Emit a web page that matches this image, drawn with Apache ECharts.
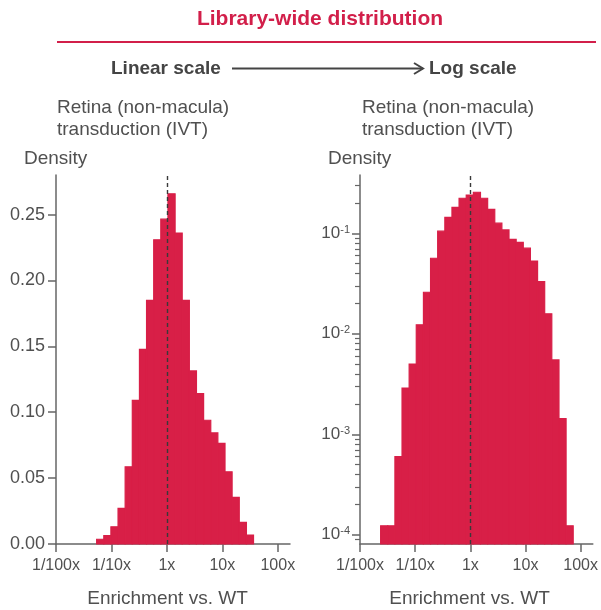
<!DOCTYPE html>
<html>
<head>
<meta charset="utf-8">
<script src="https://cdn.jsdelivr.net/npm/echarts@6/dist/echarts.min.js"></script>
<style>html,body{margin:0;padding:0;background:#fff;}#c{width:601px;height:610px;}</style>
</head>
<body>
<div id="c"></div>
<script>
// ---- data ----
const xTickValues = [-2, -1, 0, 1, 2];            // log10(enrichment)
const xTickLabels = ['1/100x', '1/10x', '1x', '10x', '100x'];
const linearYTicks = [0, 0.05, 0.10, 0.15, 0.20, 0.25];
const logYTicks = [1e-4, 1e-3, 1e-2, 1e-1];
const logYMinorTicks = [9e-5,
  2e-4, 3e-4, 4e-4, 5e-4, 6e-4, 7e-4, 8e-4, 9e-4,
  2e-3, 3e-3, 4e-3, 5e-3, 6e-3, 7e-3, 8e-3, 9e-3,
  2e-2, 3e-2, 4e-2, 5e-2, 6e-2, 7e-2, 8e-2, 9e-2,
  2e-1, 3e-1];

// histogram bin edges (log10 enrichment vs. WT)
const linearBinEdges = [-1.267, -1.138, -1.010, -0.881, -0.753, -0.624, -0.495, -0.367,
  -0.238, -0.110, 0.019, 0.148, 0.276, 0.405, 0.533, 0.662, 0.791, 0.919, 1.048,
  1.176, 1.305, 1.434, 1.562];
const linearDensity = [0.0036, 0.0063, 0.0131, 0.027, 0.0586, 0.109, 0.1477, 0.1848,
  0.2308, 0.2465, 0.2657, 0.2359, 0.1848, 0.1313, 0.1141, 0.0939, 0.0843, 0.0763,
  0.0548, 0.0354, 0.0164, 0.0068];

const logBinEdges = [-1.626, -1.497, -1.367, -1.238, -1.109, -0.980, -0.850, -0.721,
  -0.592, -0.462, -0.333, -0.204, -0.074, 0.055, 0.184, 0.314, 0.443, 0.572, 0.701,
  0.831, 0.960, 1.089, 1.219, 1.348, 1.477, 1.607, 1.736, 1.865];
const logDensity = [1.23e-4, 1.23e-4, 6.0e-4, 2.88e-3, 5.0e-3, 1.23e-2, 2.59e-2, 5.64e-2,
  0.105, 0.144, 0.181, 0.223, 0.240, 0.256, 0.223, 0.173, 0.126, 0.108, 0.087, 0.081,
  0.071, 0.053, 0.033, 0.0158, 0.0055, 0.00143, 1.23e-4];

// ---- styling ----
const FONT = '"Liberation Sans", Arial, Helvetica, sans-serif';
const BAR = '#d81f47';
const RED = '#d21f4a';
const AX = '#666666';
const TXT = '#505050';
const X_MIN = -2, X_MAX = 2.22;
const LIN_MAX = 0.28;
const LOG_MIN = 8.1e-5, LOG_MAX = 0.38;

function toBins(edges, vals) {
  return vals.map((v, i) => [edges[i], edges[i + 1], v]);
}

function renderer(yBase) {
  return function (params, api) {
    const x0 = api.value(0), x1 = api.value(1), y = api.value(2);
    const p0 = api.coord([x0, y]);
    const p1 = api.coord([x1, yBase]);
    return {
      type: 'rect',
      shape: { x: p0[0], y: p0[1], width: p1[0] - p0[0], height: p1[1] - p0[1] },
      style: { fill: BAR, stroke: BAR, lineWidth: 1.2 }
    };
  };
}

function xAxis(gi) {
  return {
    type: 'value', gridIndex: gi, min: X_MIN, max: X_MAX,
    axisLine: { show: true, onZero: false, lineStyle: { color: AX, width: 1.5 } },
    axisTick: { show: true, customValues: xTickValues, length: 8, lineStyle: { color: AX, width: 1.5 } },
    axisLabel: {
      customValues: xTickValues, margin: 14, color: TXT, fontSize: 16, fontFamily: FONT,
      formatter: v => xTickLabels[xTickValues.indexOf(Math.round(v))]
    },
    splitLine: { show: false }
  };
}

const dashed = {
  symbol: 'none', silent: true, label: { show: false },
  lineStyle: { color: '#3a3a3a', type: [4, 3], width: 1.4 },
  data: [{ xAxis: 0 }], animation: false
};

const option = {
  animation: false,
  backgroundColor: '#fff',
  grid: [
    { left: 56, top: 175, width: 234, height: 369 },
    { left: 360, top: 175, width: 233, height: 369 }
  ],
  xAxis: [xAxis(0), xAxis(1)],
  yAxis: [
    {
      type: 'value', gridIndex: 0, min: 0, max: LIN_MAX, position: 'left',
      axisLine: { show: true, onZero: false, lineStyle: { color: AX, width: 1.5 } },
      axisTick: { show: true, customValues: linearYTicks, length: 8, lineStyle: { color: AX, width: 1.5 } },
      axisLabel: { customValues: linearYTicks, margin: 11, color: TXT, fontSize: 18, fontFamily: FONT,
        formatter: v => v.toFixed(2) },
      splitLine: { show: false }
    },
    {
      type: 'log', logBase: 10, gridIndex: 1, min: LOG_MIN, max: LOG_MAX, position: 'left',
      axisLine: { show: true, onZero: false, lineStyle: { color: AX, width: 1.5 } },
      axisTick: { show: true, customValues: logYTicks, length: 8, lineStyle: { color: AX, width: 1.5 } },
      axisLabel: {
        customValues: logYTicks, margin: 10, color: TXT, fontFamily: FONT,
        formatter: v => '{b|10}{s|' + Math.round(Math.log10(v)) + '}',
        rich: {
          b: { fontSize: 17, color: TXT, fontFamily: FONT, lineHeight: 18 },
          s: { fontSize: 11, color: TXT, fontFamily: FONT, verticalAlign: 'top', lineHeight: 12 }
        }
      },
      splitLine: { show: false }
    },
    {
      type: 'log', logBase: 10, gridIndex: 1, min: LOG_MIN, max: LOG_MAX, position: 'left', offset: 0,
      axisLine: { show: false, onZero: false },
      axisTick: { show: true, customValues: logYMinorTicks, length: 5, lineStyle: { color: AX, width: 1.2 } },
      axisLabel: { show: false },
      splitLine: { show: false }
    }
  ],
  series: [
    {
      type: 'custom', xAxisIndex: 0, yAxisIndex: 0, z: 2,
      renderItem: renderer(0),
      encode: { x: [0, 1], y: 2 },
      data: toBins(linearBinEdges, linearDensity),
      markLine: dashed
    },
    {
      type: 'custom', xAxisIndex: 1, yAxisIndex: 1, z: 2,
      renderItem: renderer(LOG_MIN),
      encode: { x: [0, 1], y: 2 },
      data: toBins(logBinEdges, logDensity),
      markLine: dashed
    }
  ],
  graphic: [
    { type: 'text', x: 320, y: 19, style: { text: 'Library-wide distribution', font: 'bold 21px ' + FONT, fill: RED, align: 'center', verticalAlign: 'middle' } },
    { type: 'line', shape: { x1: 57, y1: 42, x2: 596, y2: 42 }, style: { stroke: RED, lineWidth: 2 } },
    { type: 'text', x: 111, y: 69, style: { text: 'Linear scale', font: 'bold 19px ' + FONT, fill: '#444', align: 'left', verticalAlign: 'middle' } },
    { type: 'line', shape: { x1: 232, y1: 68.5, x2: 423, y2: 68.5 }, style: { stroke: '#444', lineWidth: 2 } },
    { type: 'polyline', shape: { points: [[414, 63], [423, 68.5], [414, 74]] }, style: { stroke: '#444', lineWidth: 2, fill: null } },
    { type: 'text', x: 429, y: 69, style: { text: 'Log scale', font: 'bold 19px ' + FONT, fill: '#444', align: 'left', verticalAlign: 'middle' } },

    { type: 'text', x: 57, y: 107.5, style: { text: 'Retina (non-macula)', font: '19px ' + FONT, fill: TXT, align: 'left', verticalAlign: 'middle' } },
    { type: 'text', x: 57, y: 130, style: { text: 'transduction (IVT)', font: '19px ' + FONT, fill: TXT, align: 'left', verticalAlign: 'middle' } },
    { type: 'text', x: 24, y: 158.5, style: { text: 'Density', font: '19px ' + FONT, fill: TXT, align: 'left', verticalAlign: 'middle' } },
    { type: 'text', x: 362, y: 107.5, style: { text: 'Retina (non-macula)', font: '19px ' + FONT, fill: TXT, align: 'left', verticalAlign: 'middle' } },
    { type: 'text', x: 362, y: 130, style: { text: 'transduction (IVT)', font: '19px ' + FONT, fill: TXT, align: 'left', verticalAlign: 'middle' } },
    { type: 'text', x: 328, y: 158.5, style: { text: 'Density', font: '19px ' + FONT, fill: TXT, align: 'left', verticalAlign: 'middle' } },

    { type: 'text', x: 167.5, y: 599, style: { text: 'Enrichment vs. WT', font: '19px ' + FONT, fill: TXT, align: 'center', verticalAlign: 'middle' } },
    { type: 'text', x: 469.5, y: 599, style: { text: 'Enrichment vs. WT', font: '19px ' + FONT, fill: TXT, align: 'center', verticalAlign: 'middle' } }
  ]
};

const chart = echarts.init(document.getElementById('c'), null, { renderer: 'canvas' });
chart.setOption(option);
</script>
</body>
</html>
